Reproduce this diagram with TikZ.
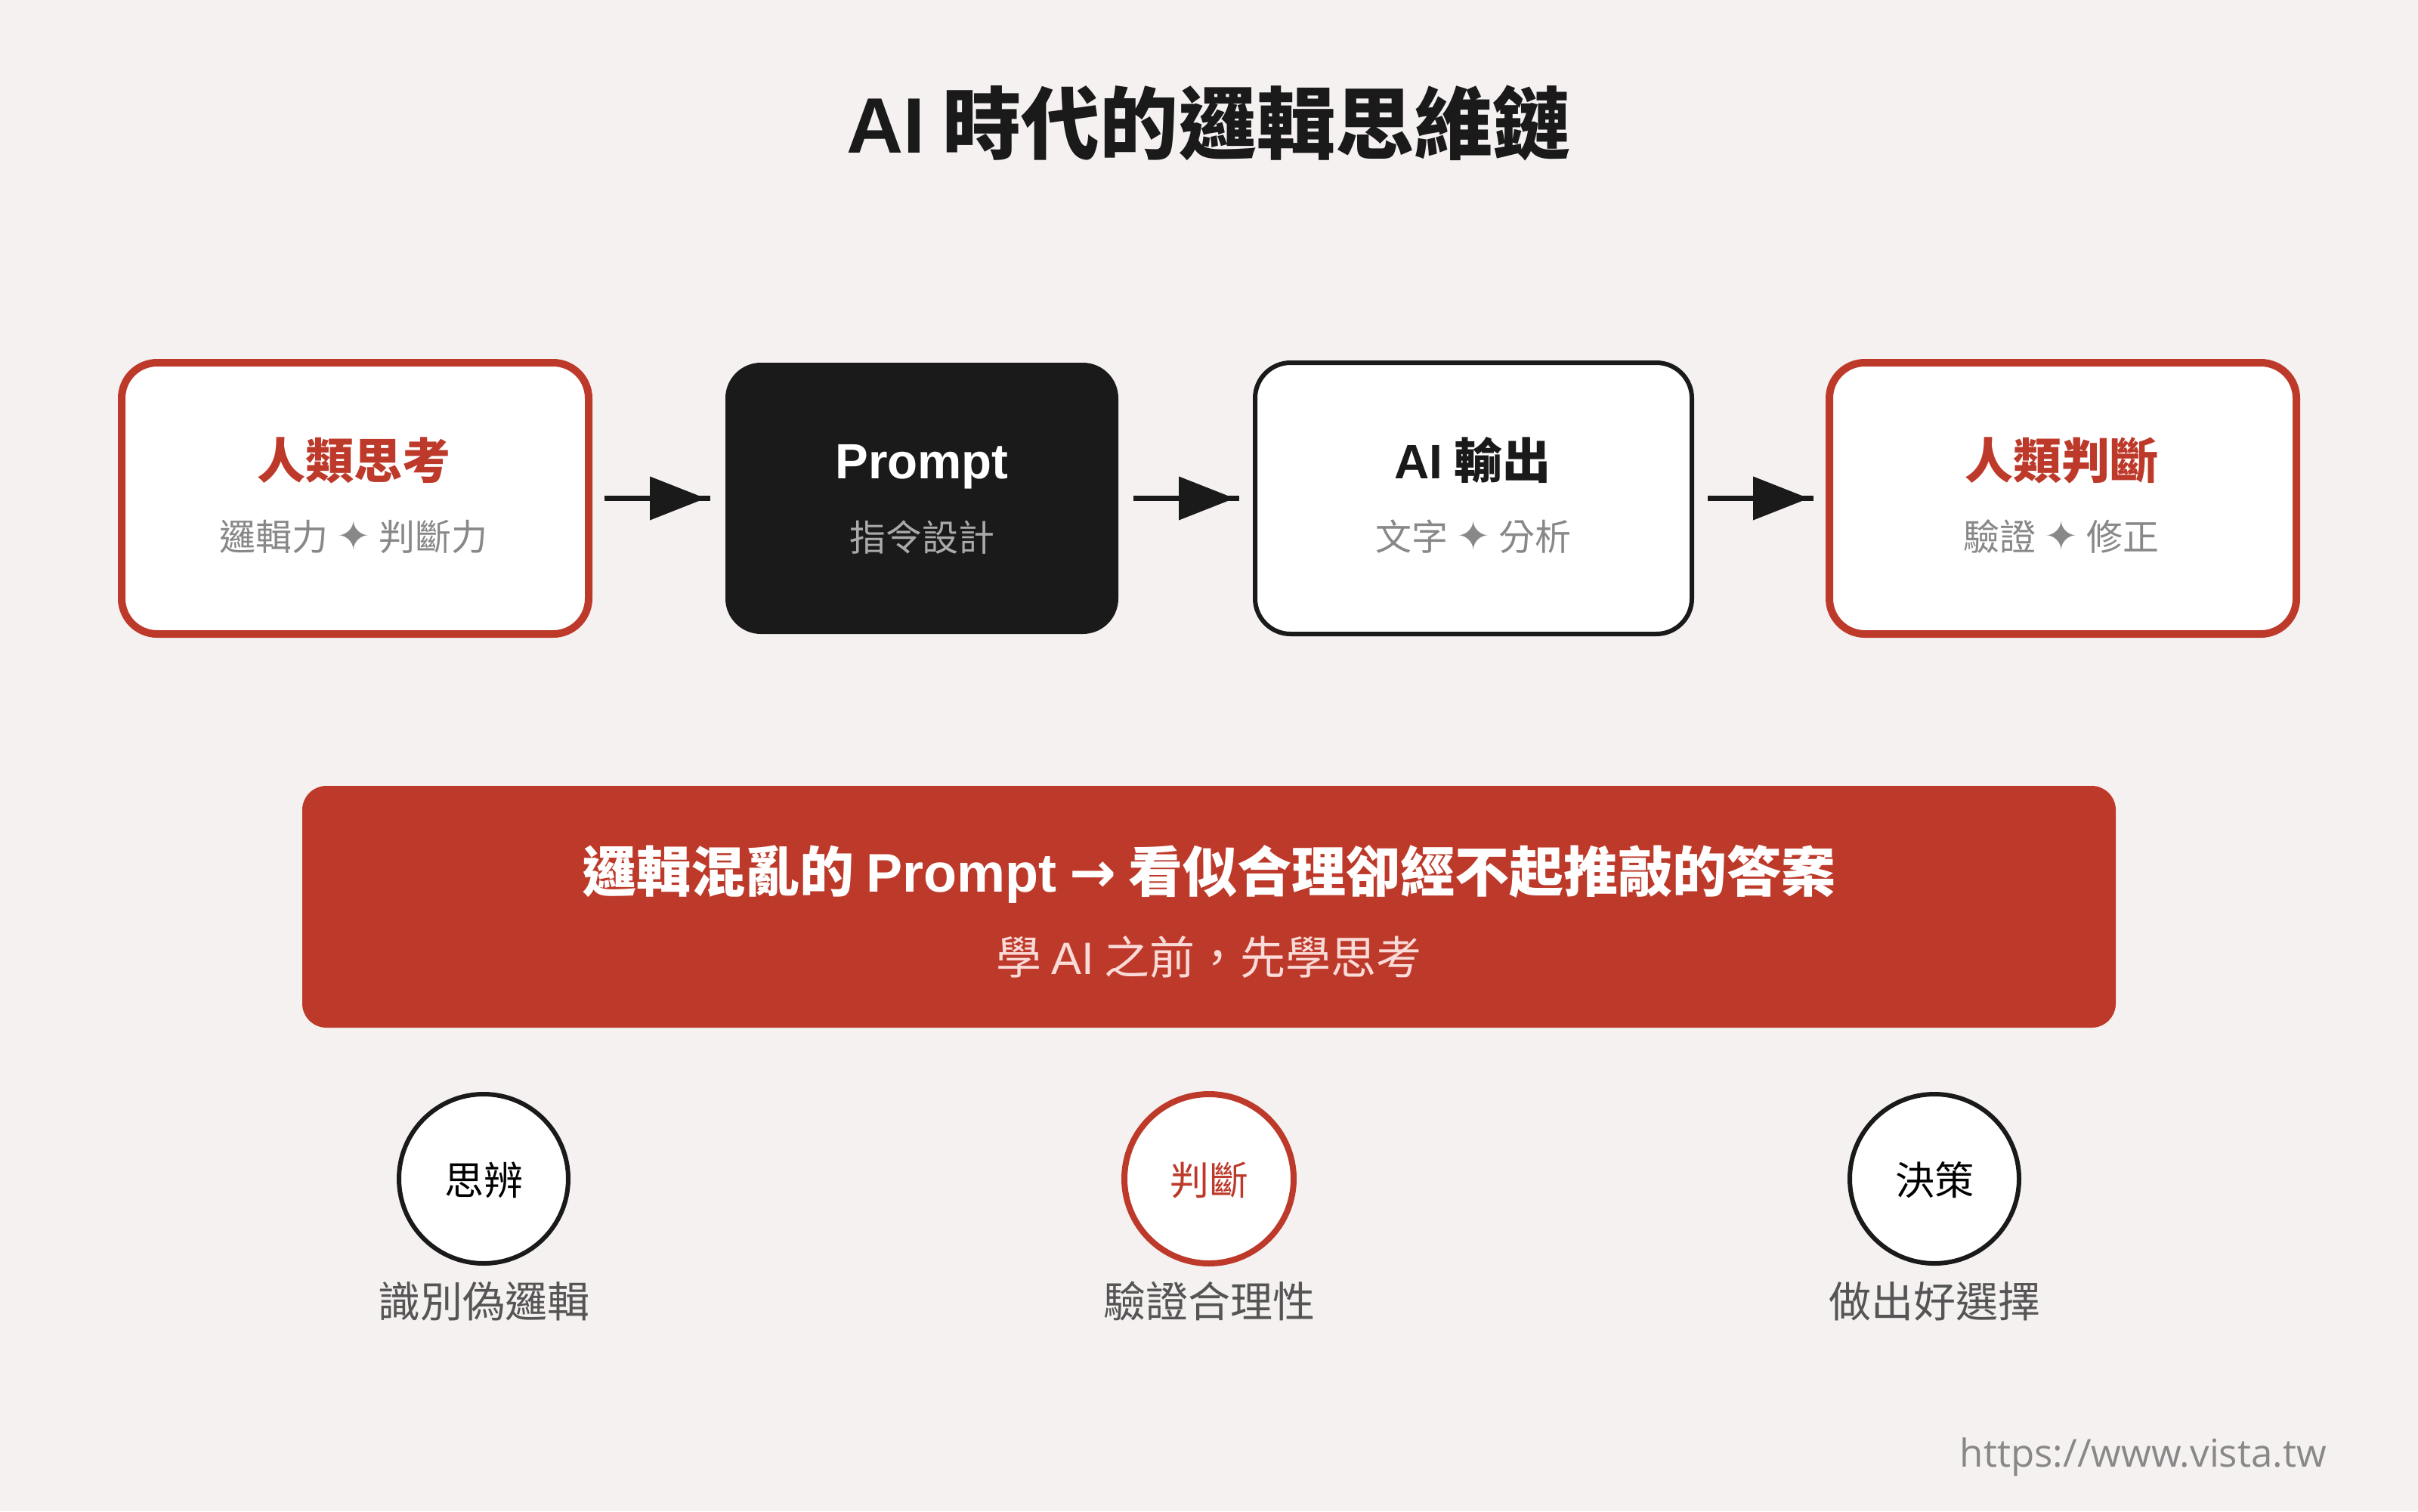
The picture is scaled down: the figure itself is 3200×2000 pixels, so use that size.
\documentclass[tikz,border=0pt]{standalone}
\usepackage{fontspec}
\usetikzlibrary{arrows.meta}
\setmainfont{Noto Sans CJK TC}
\newfontfamily\latinfont{Liberation Sans}
\newfontfamily\urlfont{Open Sans}
\newfontfamily\symbfont{DejaVu Sans}
\definecolor{pagebg}{HTML}{F5F1F0}
\definecolor{inkdark}{HTML}{1A1A1A}
\definecolor{inkred}{HTML}{BD3A2B}
\definecolor{inkgrey}{HTML}{888888}
\definecolor{inklight}{HTML}{AAAAAA}
\definecolor{inkcap}{HTML}{555555}
\definecolor{inkpink}{HTML}{FADBD8}
\newcommand{\fsize}[1]{\fontsize{#1}{#1}\selectfont}
\newcommand{\lat}[1]{{\latinfont #1}}
\newcommand{\dotstar}{{\symbfont\fsize{54}\char"2726}}
\newcommand{\bigarrow}{{\symbfont\fsize{74}\bfseries\char"2192}}
\tikzset{
    stepbox/.style={rectangle, rounded corners=47pt, minimum height=359pt, inner sep=0pt},
    redbox/.style={stepbox, draw=inkred, line width=10pt, fill=white, minimum width=618pt},
    darkbox/.style={stepbox, fill=inkdark, minimum width=520pt, outer sep=4pt},
    linebox/.style={stepbox, draw=inkdark, line width=6pt, fill=white, minimum width=578pt, outer sep=5pt},
    banner/.style={rectangle, rounded corners=32pt, fill=inkred, minimum width=2400pt, minimum height=320pt},
    ringnode/.style={circle, fill=white, minimum size=224pt, inner sep=0pt},
    blackring/.style={ringnode, draw=inkdark, line width=6pt},
    redring/.style={ringnode, draw=inkred, line width=8pt},
    headtext/.style={inner sep=0pt, font=\fsize{64}\bfseries},
    subtext/.style={inner sep=0pt, font=\fsize{48}, text=inkgrey},
    captext/.style={inner sep=0pt, font=\fsize{56}, text=inkcap},
    flowline/.style={draw=inkdark, line width=7.5pt, shorten <=16pt, shorten >=16pt,
        postaction={draw=inkdark, line width=7.5pt, shorten <=16pt, shorten >=22pt,
            -{Triangle[length=74pt, width=56pt]}}},
}
\begin{document}
\begin{tikzpicture}[x=1pt, y=-1pt]
    \fill[pagebg] (0,0) rectangle (3200,2000);
    \useasboundingbox (0,0) rectangle (3200,2000);

    \node[inner sep=0pt, text=inkdark, font=\fsize{104}\bfseries] (title) at (1600,163) {\lat{AI} 時代的邏輯思維鏈};

    \node[redbox] (human) at (470,659.5) {};
    \node[darkbox] (prompt) at (1220,659.5) {};
    \node[linebox] (output) at (1950,659.5) {};
    \node[redbox] (judge) at (2730,659.5) {};

    \node[headtext, text=inkred] (humant) at (468,609) {人類思考};
    \node[subtext] (humans) at (468,710) {邏輯力 \dotstar{} 判斷力};
    \node[headtext, text=white, font=\fsize{65.5}\bfseries] (promptt) at (1220,618) {\lat{Prompt}};
    \node[subtext, text=inklight] (prompts) at (1220,711) {指令設計};
    \node[headtext, text=inkdark] (outputt) at (1949,609) {\lat{AI} 輸出};
    \node[subtext] (outputs) at (1950,710) {文字 \dotstar{} 分析};
    \node[headtext, text=inkred] (judget) at (2728,609) {人類判斷};
    \node[subtext] (judges) at (2728,710) {驗證 \dotstar{} 修正};

    \draw[flowline] (human) -- (prompt);
    \draw[flowline] (prompt) -- (output);
    \draw[flowline] (output) -- (judge);

    \node[banner] (warn) at (1600,1200) {};
    \node[inner sep=0pt, text=white, font=\fsize{72}\bfseries] (warnt) at (1600,1157) {邏輯混亂的 \lat{Prompt} \bigarrow{} 看似合理卻經不起推敲的答案};
    \node[inner sep=0pt, text=inkpink, font=\fsize{60}] (warns) at (1600,1267) {學 \lat{AI} 之前，先學思考};

    \node[blackring] (think) at (640,1560) {};
    \node[redring] (weigh) at (1600,1560) {};
    \node[blackring] (choose) at (2560,1560) {};
    \node[inner sep=0pt, font=\fsize{52}, text=black] (thinkt) at (640,1562) {思辨};
    \node[inner sep=0pt, font=\fsize{52}, text=inkred] (weight) at (1600,1562) {判斷};
    \node[inner sep=0pt, font=\fsize{52}, text=black] (chooset) at (2560,1562) {決策};
    \node[captext] (thinkc) at (640,1722) {識別偽邏輯};
    \node[captext] (weighc) at (1600,1722) {驗證合理性};
    \node[captext] (choosec) at (2560,1722) {做出好選擇};

    \node[inner sep=0pt, anchor=east, text=inkgrey, font=\fsize{51}\urlfont] (url) at (3079,1928) {https://www.vista.tw};
\end{tikzpicture}
\end{document}
